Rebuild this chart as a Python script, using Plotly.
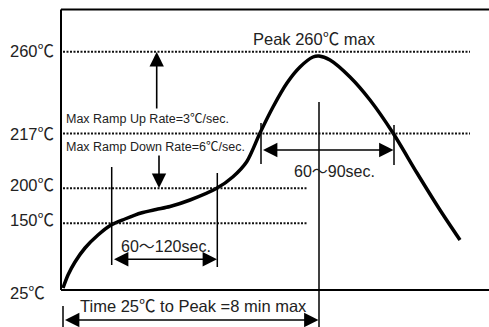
import plotly.graph_objects as go

# ---- data (display units: x = time position, y = vertical position of temperature) ----
temp_labels = ["260℃", "217℃", "200℃", "150℃", "25℃"]
temp_label_pos = [239, 156, 105, 70, -3]
level_pos = [238.3, 156.5, 101.7, 66.7]          # 260, 217, 200, 150 reference lines
level_end = [409, 409, 246, 246]

profile_t = [2, 7, 14, 24, 37, 50, 64, 80, 95, 109, 129, 155.7, 172, 185.7, 199, 212,
             226, 239, 252, 258, 269, 289, 309, 332, 356, 379, 399]
profile_y = [2, 15, 28, 42, 55, 65, 71, 77, 80.5, 83.5, 90, 101.7, 113.3, 128.3, 157, 183,
             207, 223, 233, 234, 230, 213, 190, 157, 117, 80, 50]

FONT = "Liberation Sans, Arial, Noto Sans CJK SC, sans-serif"
TXT = "#222222"

fig = go.Figure()
fig.add_trace(go.Scatter(x=profile_t, y=profile_y, mode="lines",
                         line=dict(color="black", width=3.5, shape="spline", smoothing=0.8),
                         hoverinfo="skip", showlegend=False))

shapes = []
# frame
shapes.append(dict(type="line", x0=0, x1=428, y0=280.5, y1=280.5, line=dict(color="black", width=2)))
shapes.append(dict(type="line", x0=0, x1=0, y0=0, y1=280.5, line=dict(color="black", width=2)))
shapes.append(dict(type="line", x0=0, x1=428, y0=0, y1=0, line=dict(color="black", width=2)))
# dotted temperature levels
for yp, xe in zip(level_pos, level_end):
    shapes.append(dict(type="line", x0=2, x1=xe, y0=yp, y1=yp,
                       line=dict(color="#111111", width=2, dash="2px,1.5px")))
# vertical markers
marks = [(50.7, 123, 25), (156.3, 117, 23), (200, 167, 126), (333, 165, 125),
         (258, 188, -37), (2, -16, -37)]
for xm, ya, yb in marks:
    shapes.append(dict(type="line", x0=xm, x1=xm, y0=ya, y1=yb,
                       line=dict(color="black", width=1.5)))

ann = []
for lab, yp in zip(temp_labels, temp_label_pos):
    ann.append(dict(x=-53, y=yp, text=lab, showarrow=False, xanchor="left", yanchor="middle",
                    font=dict(family=FONT, size=16.5, color=TXT)))

def arrow(x0, y0, x1, y1, both=False):
    return dict(x=x1, y=y1, ax=x0, ay=y0, xref="x", yref="y", axref="x", ayref="y",
                text="", showarrow=True, arrowhead=2, arrowsize=1.8, arrowwidth=1.6,
                arrowcolor="black", arrowside="end+start" if both else "end",
                startarrowhead=2, startarrowsize=1.8, standoff=0, startstandoff=0)

ann.append(arrow(95.7, 180, 95.7, 238))
ann.append(arrow(98, 136, 98, 102))
ann.append(arrow(51.5, 30.7, 156, 30.7, both=True))
ann.append(arrow(200.5, 140, 332.5, 140, both=True))
ann.append(arrow(2.5, -30, 257.5, -30, both=True))

texts = [
    ("Peak 260℃ max", 253.5, 251, "center", 16.5),
    ("Max Ramp Up Rate=3℃/sec.", 3, 171, "left", 12.5),
    ("Max Ramp Down Rate=6℃/sec.", 3, 143, "left", 12.5),
    ("60～120sec.", 104.5, 44, "center", 16),
    ("60～90sec.", 273.5, 119, "center", 16),
    ("Time 25℃ to Peak =8 min max", 132.5, -15.5, "center", 16.5),
]
for t, x, y, xa, sz in texts:
    ann.append(dict(x=x, y=y, text=t, showarrow=False, xanchor=xa, yanchor="middle",
                    font=dict(family=FONT, size=sz, color=TXT)))

fig.update_layout(
    width=489, height=327, margin=dict(l=0, r=0, t=0, b=0),
    paper_bgcolor="white", plot_bgcolor="white",
    xaxis=dict(range=[-61, 428], visible=False, fixedrange=True),
    yaxis=dict(range=[-37, 290], visible=False, fixedrange=True),
    shapes=shapes, annotations=ann, showlegend=False,
)
fig.write_html("out.html", config={"displayModeBar": False},
               post_script="document.body.style.margin='0';document.body.style.overflow='hidden';")
